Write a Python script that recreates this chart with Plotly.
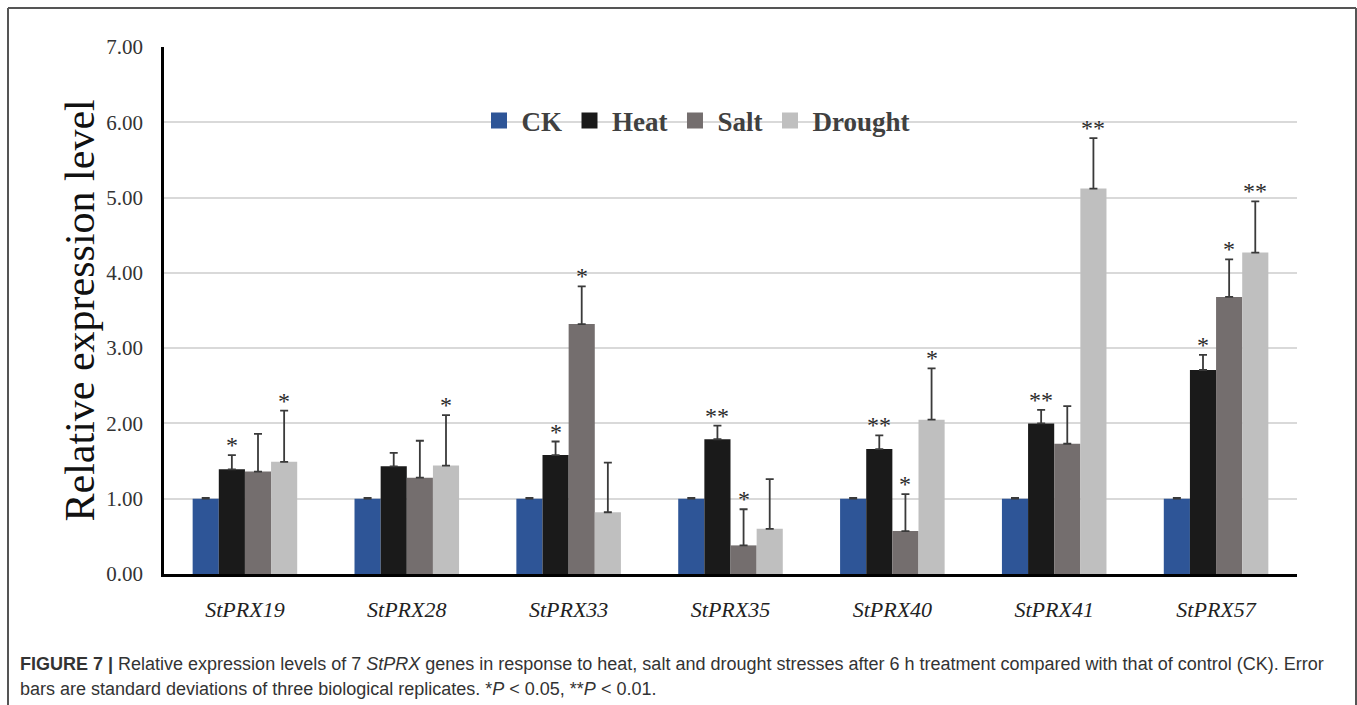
import numpy as np
import plotly.graph_objects as go

genes = ["StPRX19", "StPRX28", "StPRX33", "StPRX35", "StPRX40", "StPRX41", "StPRX57"]
treatments = ["CK", "Heat", "Salt", "Drought"]
colors = ["#2e5597", "#1a1a1a", "#746e6e", "#bfbfbf"]

ck = [1.00, 1.00, 1.00, 1.00, 1.00, 1.00, 1.00]
heat = [1.39, 1.43, 1.58, 1.79, 1.66, 2.00, 2.71]
salt = [1.36, 1.28, 3.32, 0.38, 0.57, 1.73, 3.68]
drought = [1.49, 1.44, 0.82, 0.60, 2.05, 5.12, 4.27]

ck_sd = [0.01, 0.01, 0.01, 0.01, 0.01, 0.01, 0.01]
heat_sd = [0.19, 0.18, 0.18, 0.18, 0.18, 0.18, 0.20]
salt_sd = [0.50, 0.49, 0.50, 0.48, 0.49, 0.50, 0.50]
drought_sd = [0.68, 0.67, 0.66, 0.66, 0.68, 0.67, 0.68]

# significance marks per gene, in treatment order
ck_sig = ["", "", "", "", "", "", ""]
heat_sig = ["*", "", "*", "**", "**", "**", "*"]
salt_sig = ["", "", "*", "*", "*", "", "*"]
drought_sig = ["*", "*", "", "", "*", "**", "**"]

values = [ck, heat, salt, drought]
sds = [ck_sd, heat_sd, salt_sd, drought_sd]
sigs = [ck_sig, heat_sig, salt_sig, drought_sig]

# plot-area geometry in pixels
W, H = 1357, 705
L, R, T, B = 164, 60, 47, 131
pw, ph = W - L - R, H - T - B


def px_x(x):
    return (x - L) / pw


def px_y(y):
    return (H - B - y) / ph


bar_w = 0.1615
base = np.arange(len(genes))

fig = go.Figure()
for i, name in enumerate(treatments):
    xs = base + (i - 1.5) * bar_w
    fig.add_trace(go.Bar(
        x=xs, y=values[i], width=bar_w, name=name,
        marker=dict(color=colors[i], line=dict(width=0)),
        error_y=dict(type="data", symmetric=False, array=sds[i],
                     arrayminus=[0] * len(genes),
                     color="#3a3a3a", thickness=1.8, width=4),
        showlegend=False,
    ))
    # legend swatch
    fig.add_trace(go.Scatter(
        x=[None], y=[None], mode="markers", name=name,
        marker=dict(symbol="square", size=18, color=colors[i], line=dict(width=0)),
    ))
    for g in range(len(genes)):
        if sigs[i][g]:
            fig.add_annotation(
                x=xs[g], y=values[i][g] + sds[i][g], text=sigs[i][g],
                showarrow=False, yanchor="bottom", yshift=-5,
                font=dict(family="Liberation Serif", size=24, color="#2a2a2a"),
            )

fig.add_annotation(
    x=px_x(79), y=0.5, xref="paper", yref="paper", text="Relative expression level",
    textangle=-90, showarrow=False, xanchor="center", yanchor="middle",
    font=dict(family="Liberation Serif", size=42, color="#111111"),
)

cap_font = dict(family="Liberation Sans", size=18, color="#333333")
fig.add_annotation(
    x=px_x(18), y=px_y(664), xref="paper", yref="paper", xanchor="left", yanchor="middle",
    text="<b>FIGURE 7 |</b> Relative expression levels of 7 <i>StPRX</i> genes in response to heat, "
         "salt and drought stresses after 6 h treatment compared with that of control (CK). Error",
    showarrow=False, font=cap_font,
)
fig.add_annotation(
    x=px_x(18), y=px_y(689), xref="paper", yref="paper", xanchor="left", yanchor="middle",
    text="bars are standard deviations of three biological replicates. *<i>P</i> &lt; 0.05, **<i>P</i> &lt; 0.01.",
    showarrow=False, font=cap_font,
)

# outer figure frame
frame = dict(type="line", xref="paper", yref="paper", line=dict(color="#555555", width=2))
fig.add_shape(x0=px_x(8), x1=px_x(1356), y0=px_y(8), y1=px_y(8), **frame)
fig.add_shape(x0=px_x(8), x1=px_x(8), y0=px_y(8), y1=px_y(712), **frame)
fig.add_shape(x0=px_x(1356), x1=px_x(1356), y0=px_y(8), y1=px_y(712), **frame)

fig.update_layout(
    width=W, height=H,
    margin=dict(l=L, r=R, t=T, b=B),
    paper_bgcolor="white", plot_bgcolor="white",
    barmode="overlay",
    legend=dict(
        orientation="h", x=px_x(696), y=px_y(121), xanchor="center", yanchor="middle",
        bgcolor="rgba(0,0,0,0)",
        font=dict(family="Liberation Serif", size=27, color="#404040", weight="bold"),
        itemwidth=35,
    ),
    xaxis=dict(
        range=[-0.5, 6.5], tickvals=list(base), ticktext=[f"<i>{g}</i>" for g in genes],
        showgrid=False, zeroline=False, showline=True, linecolor="black", linewidth=3,
        ticks="", ticklabelstandoff=14,
        tickfont=dict(family="Liberation Serif", size=22, color="#222222"),
    ),
    yaxis=dict(
        range=[0, 7], dtick=1, tickformat=".2f",
        showgrid=True, gridcolor="#d9d9d9", gridwidth=1.5,
        zeroline=False, showline=True, linecolor="black", linewidth=2.5,
        ticks="", ticklabelstandoff=14,
        tickfont=dict(family="Liberation Serif", size=21, color="#333333"),
    ),
)

fig.write_html("out.html")
